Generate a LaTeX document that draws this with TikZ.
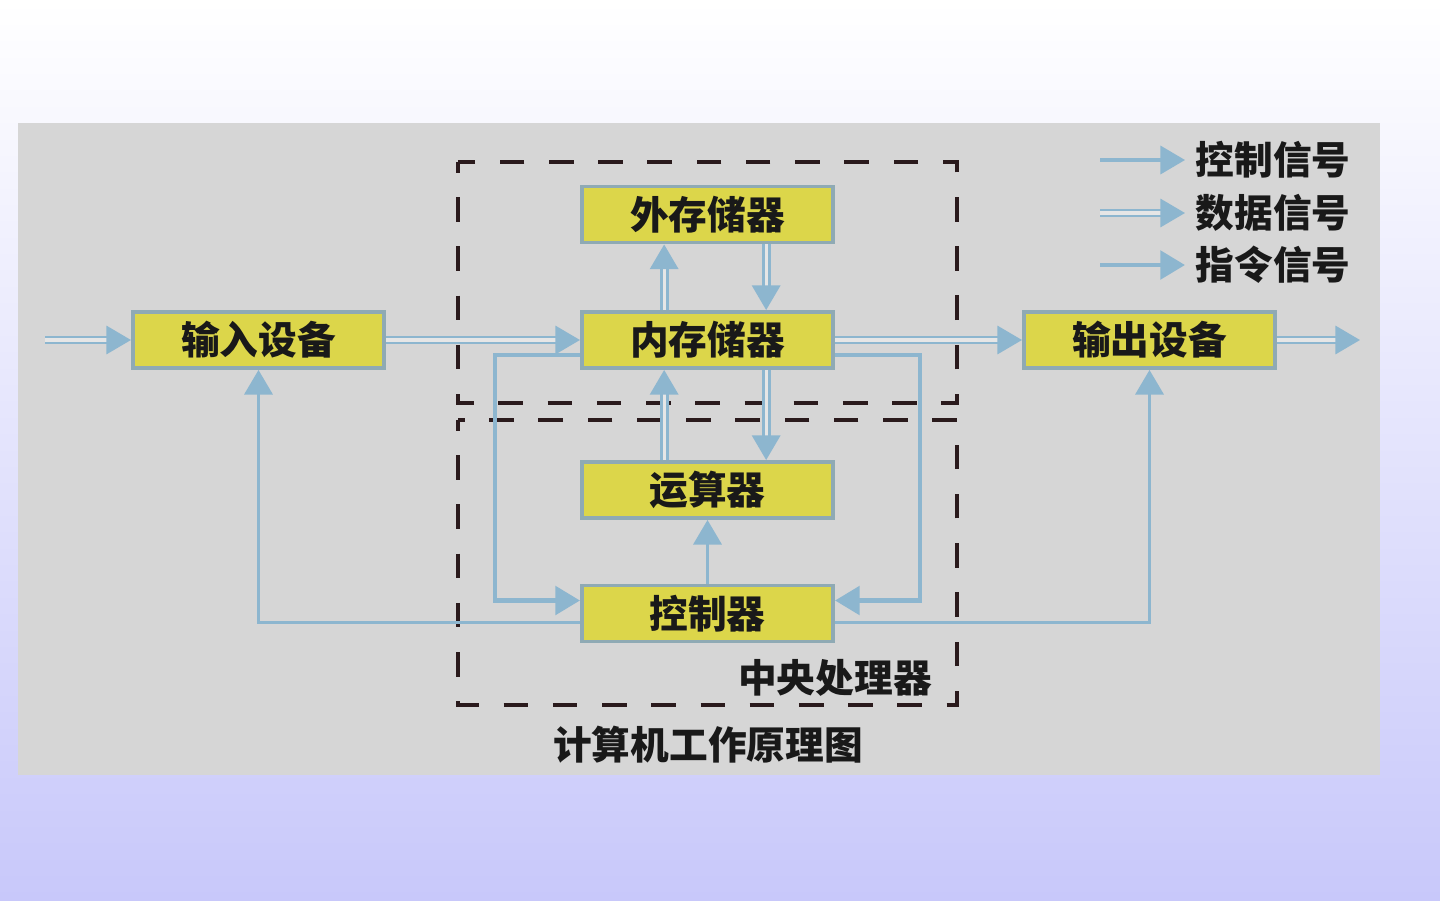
\documentclass[tikz,border=0pt]{standalone}
\usepackage{fontspec}
\setmainfont{Noto Sans CJK SC}
\usepackage{tikz}
\usetikzlibrary{arrows.meta,positioning,calc}
\definecolor{slide}{HTML}{C8C8FA}
\definecolor{photo}{HTML}{D6D6D6}
\definecolor{boxyellow}{HTML}{DCD64A}
\definecolor{boxedge}{HTML}{8FAAB4}
\definecolor{sigblue}{HTML}{8DB6CF}
\definecolor{cpudash}{HTML}{2A1A1C}
\begin{document}
\begin{tikzpicture}[x=0.01cm,y=-0.01cm,
  font=\fontsize{11}{13}\selectfont\bfseries,text=black!90,
  unit/.style={draw=boxedge,line width=1.1pt,fill=boxyellow,minimum width=2.51cm,
               minimum height=0.56cm,inner sep=0pt},
  ctrl/.style={-{Triangle[length=7pt,width=8pt]},line width=0.9pt,draw=sigblue},
  data/.style={-{Triangle[length=7pt,width=8pt]},line width=0.8pt,draw=sigblue,
               double=photo!60!white,double distance=0.9pt},
  instr/.style={-{Triangle[length=7pt,width=8pt]},line width=1.4pt,draw=sigblue},
  cpu/.style={draw=cpudash,line width=1.4pt,dash pattern=on 7pt off 7pt,dash phase=4pt},
  legend/.style={anchor=west,inner sep=0pt}
]
\useasboundingbox (0,0) rectangle (1440,900);
\shade[top color=white,bottom color=slide] (0,0) rectangle (1440,900);
\fill[photo] (18,123) rectangle (1380,775);
\draw[cpu] (458,162) rectangle (957,403);
\draw[cpu] (458,420) rectangle (957,705);
\node[unit] (in)  at (258.5,340) {输入设备};
\node[unit] (ext) at (707.5,214.5) {外存储器};
\node[unit] (mem) at (707.5,340) {内存储器};
\node[unit] (alu) at (707.5,490) {运算器};
\node[unit] (ctl) at (707.5,613.5) {控制器};
\node[unit] (out) at (1149.5,340) {输出设备};
\node (cpuname) at (835,678) {中央处理器};
\node (title) at (708,745) {计算机工作原理图};
\coordinate (src) at (45,340); \coordinate (snk) at (1360,340);
\draw[data] (src) -- (in.west); \draw[data] (in.east) -- (mem.west);
\draw[data] (mem.east) -- (out.west); \draw[data] (out.east) -- (snk);
\draw[data] ($(mem.north west)!0.33!(mem.north east)$) -- ($(ext.south west)!0.33!(ext.south east)$);
\draw[data] ($(ext.south west)!0.73!(ext.south east)$) -- ($(mem.north west)!0.73!(mem.north east)$);
\draw[data] ($(alu.north west)!0.33!(alu.north east)$) -- ($(mem.south west)!0.33!(mem.south east)$);
\draw[data] ($(mem.south west)!0.73!(mem.south east)$) -- ($(alu.north west)!0.73!(alu.north east)$);
\draw[ctrl] (ctl.north) -- (alu.south);
\draw[instr] ($(mem.west)+(0,15)$) -- ++(-85,0) |- ($(ctl.west)+(0,-13)$);
\draw[instr] ($(mem.east)+(0,15)$) -- ++(85,0) |- ($(ctl.east)+(0,-13)$);
\draw[ctrl] ($(ctl.west)+(0,9)$) -| (in.south);
\draw[ctrl] ($(ctl.east)+(0,9)$) -| (out.south);
\node[legend] (t1) at (1195,160) {控制信号};
\node[legend] (t2) at (1195,213) {数据信号};
\node[legend] (t3) at (1195,265) {指令信号};
\coordinate (k1) at (1100,160); \coordinate (k2) at (1100,213); \coordinate (k3) at (1100,265);
\draw[ctrl] (k1) -- ([xshift=-0.1cm]t1.west);
\draw[data] (k2) -- ([xshift=-0.1cm]t2.west);
\draw[instr] (k3) -- ([xshift=-0.1cm]t3.west);
\end{tikzpicture}
\end{document}
